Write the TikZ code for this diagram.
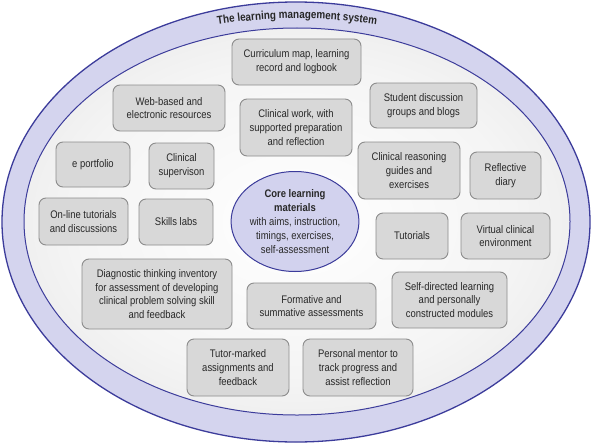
\documentclass[tikz,border=0pt]{standalone}
\usepackage{fontspec}
\setmainfont{Liberation Sans}[FakeStretch=0.86]
\usetikzlibrary{shapes.geometric,decorations.text}
\definecolor{bandcol}{RGB}{212,212,238}
\definecolor{linecol}{RGB}{60,60,155}
\definecolor{boxfill}{RGB}{216,216,216}
\definecolor{boxline}{RGB}{140,140,140}
\definecolor{corefill}{RGB}{210,210,238}
\definecolor{txt}{RGB}{40,40,40}
\pgfdeclareradialshading{innershade}{\pgfpoint{0bp}{0bp}}{color(0bp)=(white); color(20bp)=(white!96!black); color(50bp)=(white!84!black)}
\begin{document}
\begin{tikzpicture}[x=1pt,y=-1pt,
  bx/.style={draw=boxline, line width=0.9pt, fill=boxfill, rounded corners=7pt,
    align=center, inner sep=0pt, text=txt, font=\fontsize{11}{13.7}\selectfont},
  coreshape/.style={ellipse, draw=linecol, line width=1pt, fill=corefill,
    minimum width=126pt, minimum height=100pt, inner sep=0pt, align=center,
    text=txt, font=\fontsize{11}{13.9}\selectfont}
]
\useasboundingbox (0,0) rectangle (593,444);
\fill[white] (0,0) rectangle (593,444);
\draw[line width=1.3pt, draw=linecol, fill=bandcol] (296,222) ellipse [x radius=294, y radius=220];
\shade[shading=innershade] (297,221.5) ellipse [x radius=273, y radius=193.5];
\draw[line width=1pt, draw=linecol] (297,221.5) ellipse [x radius=273, y radius=193.5];

\path[decorate, decoration={text along path, text align=center, text color=txt,
  text={|\fontsize{11.5}{12}\selectfont\bfseries|The learning management system}}]
  (190,29.3) .. controls (264,14.9) and (330,14.9) .. (404,29.3);

\node[bx, minimum width=129pt, minimum height=46pt] (curr) at (296.5,62) {Curriculum map, learning\\record and logbook};
\node[bx, minimum width=112pt, minimum height=46pt] (web) at (169,108) {Web-based and\\electronic resources};
\node[bx, minimum width=112pt, minimum height=57pt] (clinwork) at (296,127.5) {Clinical work, with\\supported preparation\\and reflection};
\node[bx, minimum width=107pt, minimum height=45pt] (student) at (423.5,105.5) {Student discussion\\groups and blogs};
\node[bx, minimum width=74pt, minimum height=45pt] (eport) at (93,164.5) {e portfolio};
\node[bx, minimum width=65pt, minimum height=46pt] (super) at (181.5,166) {Clinical\\supervison};
\node[bx, minimum width=102pt, minimum height=57pt] (reason) at (409,170.5) {Clinical reasoning\\guides and\\exercises};
\node[bx, minimum width=71pt, minimum height=47pt] (diary) at (505.5,175.5) {Reflective\\diary};
\node[bx, minimum width=89pt, minimum height=47pt] (online) at (83.5,221.5) {On-line tutorials\\and discussions};
\node[bx, minimum width=74pt, minimum height=46pt] (skills) at (176,222) {Skills labs};
\node[coreshape] (core) at (295,221.5) {\textbf{Core learning}\\\textbf{materials}\\with aims, instruction,\\timings, exercises,\\self-assessment};
\node[bx, minimum width=72pt, minimum height=46pt] (tut) at (412,236) {Tutorials};
\node[bx, minimum width=89pt, minimum height=46pt] (virt) at (505.5,236) {Virtual clinical\\environment};
\node[bx, minimum width=150pt, minimum height=70pt] (diag) at (157,294) {Diagnostic thinking inventory\\for assessment of developing\\clinical problem solving skill\\and feedback};
\node[bx, minimum width=129pt, minimum height=46pt] (form) at (311.5,306) {Formative and\\summative assessments};
\node[bx, minimum width=115pt, minimum height=56pt] (self) at (449.5,300) {Self-directed learning\\and personally\\constructed modules};
\node[bx, minimum width=102pt, minimum height=57pt] (tutor) at (238,367.5) {Tutor-marked\\assignments and\\feedback};
\node[bx, minimum width=110pt, minimum height=57pt] (mentor) at (358,367.5) {Personal mentor to\\track progress and\\assist reflection};
\end{tikzpicture}
\end{document}
